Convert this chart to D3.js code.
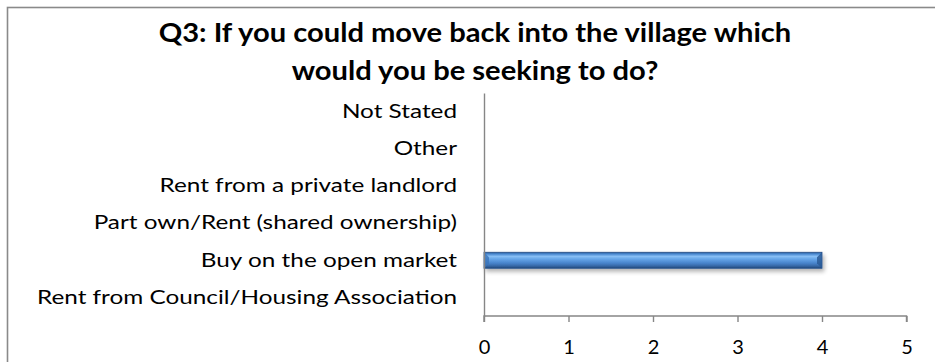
<!DOCTYPE html>
<html>
<head>
<meta charset="utf-8">
<script src="https://cdn.jsdelivr.net/npm/d3@7"></script>
<style>
  html, body { margin: 0; padding: 0; background: #fff; }
  svg { display: block; }
  text { font-family: Lato, "Open Sans", sans-serif; fill: #000; }
</style>
</head>
<body>
<svg id="chart" width="935" height="362"></svg>
<script>
// Survey responses, listed bottom-to-top as on the category axis
const categories = [
  "Rent from Council/Housing Association",
  "Buy on the open market",
  "Part own/Rent (shared ownership)",
  "Rent from a private landlord",
  "Other",
  "Not Stated"
];
const counts = [0, 4, 0, 0, 0, 0];
const xTicks = [0, 1, 2, 3, 4, 5];
const titleLines = [
  "Q3: If you could move back into the village which",
  "would you be seeking to do?"
];

const svg = d3.select("#chart");
const W = 935, H = 362;

const plot = { left: 484, right: 906.5, top: 93, bottom: 316 };

// Widen a group of texts by a common factor (a wider face is emulated with Lato)
function widen(sel, factor) {
  sel.each(function () {
    const len = this.getComputedTextLength();
    d3.select(this)
      .attr("textLength", len * factor)
      .attr("lengthAdjust", "spacingAndGlyphs");
  });
}

// Chart frame (continues past the right and bottom edges)
svg.append("rect")
  .attr("x", 7.5).attr("y", 7.5)
  .attr("width", W + 20).attr("height", H + 20)
  .attr("fill", "#fff")
  .attr("stroke", "#8a8a8a").attr("stroke-width", 1.6);

// Title
const titles = svg.append("g").selectAll("text")
  .data(titleLines)
  .join("text")
  .attr("x", 475)
  .attr("y", (d, i) => 42 + i * 38)
  .attr("text-anchor", "middle")
  .attr("font-size", 26)
  .attr("font-weight", 700)
  .text(d => d);
widen(titles, 1.12);

const data = categories.map((c, i) => ({ cat: c, value: counts[i] }));

const x = d3.scaleLinear().domain([0, 5]).range([plot.left, plot.right]);
const y = d3.scaleBand()
  .domain(categories.slice().reverse())
  .range([plot.top, plot.bottom])
  .paddingInner(0.57)
  .paddingOuter(0.285);

// Bar fill and bevel gradients
const defs = svg.append("defs");
const grad = defs.append("linearGradient")
  .attr("id", "barGrad").attr("x1", 0).attr("y1", 0).attr("x2", 0).attr("y2", 1);
[
  [0, "#2c5b93"], [0.1, "#4785ce"], [0.26, "#88bff5"], [0.42, "#66a6e9"],
  [0.68, "#4884cc"], [0.86, "#3668a6"], [1, "#22487a"]
].forEach(([o, c]) => grad.append("stop").attr("offset", o).attr("stop-color", c));

const shadow = defs.append("filter").attr("id", "barShadow")
  .attr("x", "-5%").attr("y", "-30%").attr("width", "110%").attr("height", "190%");
shadow.append("feGaussianBlur").attr("in", "SourceAlpha").attr("stdDeviation", 2.2);
shadow.append("feOffset").attr("dx", 2).attr("dy", 3).attr("result", "b");
shadow.append("feComponentTransfer").append("feFuncA").attr("type", "linear").attr("slope", 0.3);
const merge = shadow.append("feMerge");
merge.append("feMergeNode");
merge.append("feMergeNode").attr("in", "SourceGraphic");

// Bars
const barG = svg.append("g");
const bars = barG.selectAll("g.bar")
  .data(data.filter(d => d.value > 0))
  .join("g").attr("class", "bar");

bars.append("rect")
  .attr("x", x(0))
  .attr("y", d => y(d.cat))
  .attr("width", d => x(d.value) - x(0))
  .attr("height", y.bandwidth())
  .attr("fill", "url(#barGrad)")
  .attr("stroke", "#24508a")
  .attr("stroke-width", 0.8)
  .attr("filter", "url(#barShadow)");

// Bevelled end caps
const bev = 5;
bars.append("path")
  .attr("d", d => {
    const x0 = x(0), y0 = y(d.cat), h = y.bandwidth();
    return `M${x0},${y0} L${x0 + bev},${y0 + bev} L${x0 + bev},${y0 + h - bev} L${x0},${y0 + h} Z`;
  })
  .attr("fill", "#3a74ba").attr("opacity", 0.8);
bars.append("path")
  .attr("d", d => {
    const x1 = x(d.value), y0 = y(d.cat), h = y.bandwidth();
    return `M${x1},${y0} L${x1 - bev},${y0 + bev} L${x1 - bev},${y0 + h - bev} L${x1},${y0 + h} Z`;
  })
  .attr("fill", "#2a5a96").attr("opacity", 0.85);

// Axes
const axisColor = "#868686";
const xAxis = svg.append("g")
  .attr("transform", `translate(0,${plot.bottom})`)
  .call(d3.axisBottom(x).tickValues(xTicks).tickFormat(d3.format("d")).tickSize(6).tickPadding(18));
xAxis.select(".domain").attr("stroke", axisColor).attr("stroke-width", 1.4)
  .attr("d", `M${plot.left},6V0H${plot.right}V6`);
xAxis.selectAll(".tick line").attr("stroke", axisColor).attr("stroke-width", 1.4);
xAxis.selectAll(".tick text")
  .attr("font-size", 20).attr("font-family", "Lato, sans-serif").attr("fill", "#000");

const yAxis = svg.append("g")
  .attr("transform", `translate(${plot.left},0)`)
  .call(d3.axisLeft(y).tickSize(0).tickPadding(27));
yAxis.select(".domain").attr("stroke", axisColor).attr("stroke-width", 1.4);
const yLabels = yAxis.selectAll(".tick text")
  .attr("font-size", 19.5).attr("font-family", "Lato, sans-serif").attr("fill", "#000");
// Scale so the longest category label spans the same width as in the layout (≈420px)
const longest = d3.max(yLabels.nodes(), n => n.getComputedTextLength());
widen(yLabels, 420 / longest);
</script>
</body>
</html>
